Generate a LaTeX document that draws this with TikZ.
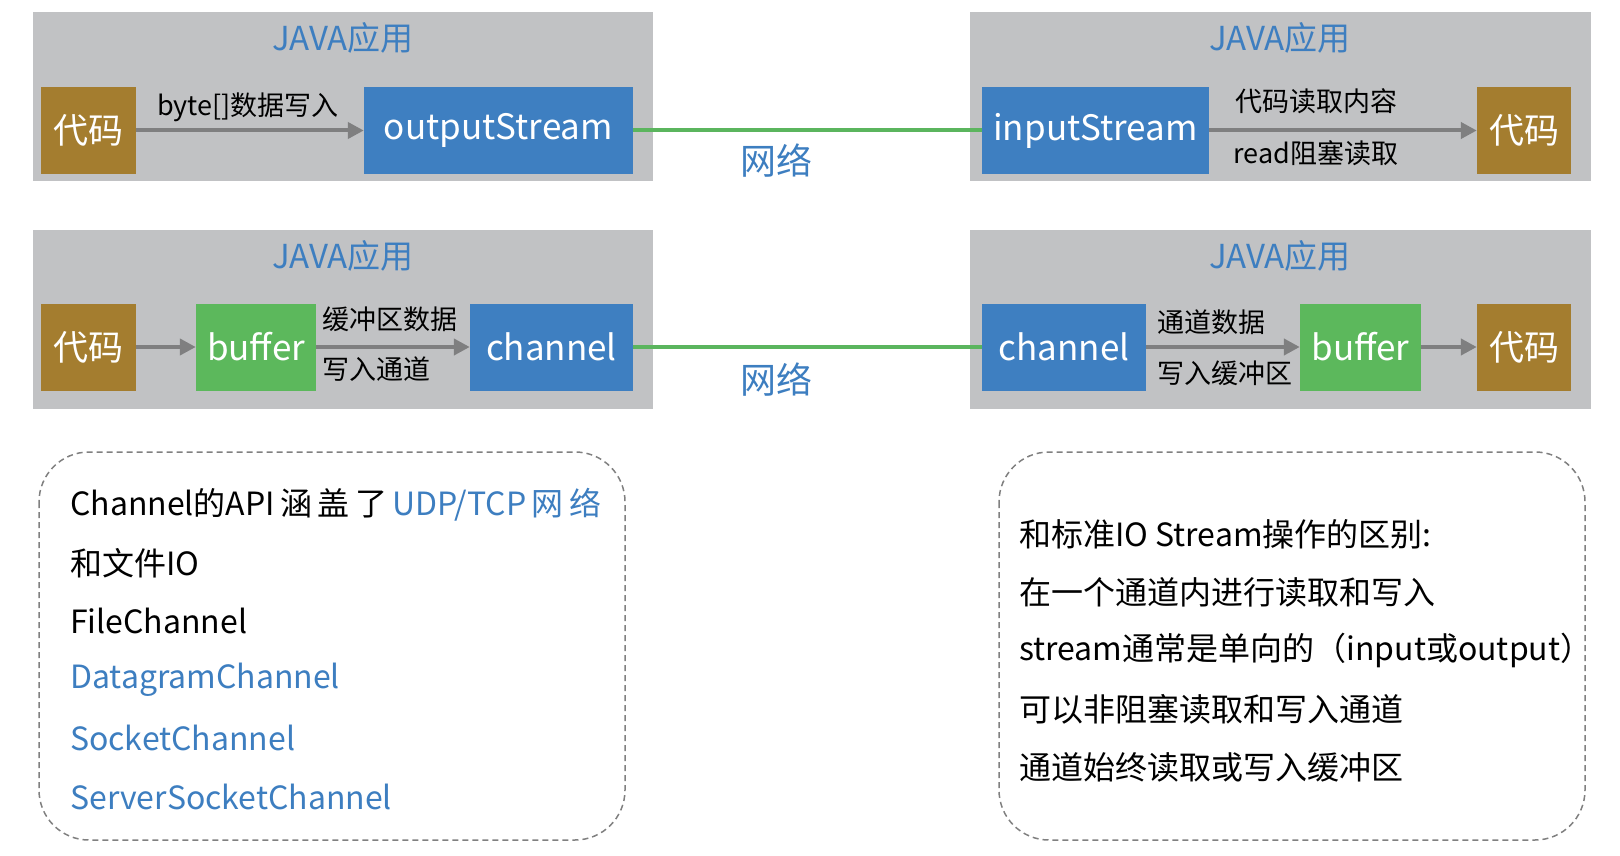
\documentclass[tikz,border=0pt]{standalone}
\usepackage{fontspec}
\setmainfont{Noto Sans CJK SC}
\usetikzlibrary{arrows.meta}
\definecolor{gbox}{HTML}{C1C2C4}
\definecolor{gold}{HTML}{A47D2F}
\definecolor{bblue}{HTML}{3E7FC1}
\definecolor{bgreen}{HTML}{5CB85C}
\definecolor{lgreen}{HTML}{5BB55E}
\definecolor{agray}{HTML}{7F7F80}
\definecolor{tblue}{HTML}{3D7EC0}
\begin{document}
\begin{tikzpicture}[x=1pt,y=-1pt,
  app/.style={fill=gbox,draw=none},
  blk/.style={draw=none,text=white,font=\fontsize{35}{37}\selectfont,inner sep=0},
  code/.style={blk,fill=gold},
  blue/.style={blk,fill=bblue},
  green/.style={blk,fill=bgreen},
  arr/.style={draw=agray,line width=4pt,-{Triangle[length=16pt,width=16pt]}},
  net/.style={draw=lgreen,line width=4pt},
  lbl/.style={font=\fontsize{27}{29}\selectfont,inner sep=0},
  title/.style={text=tblue,font=\fontsize{33}{35}\selectfont,inner sep=0},
  nettxt/.style={text=tblue,font=\fontsize{36}{38}\selectfont,inner sep=0},
  dbox/.style={draw=gray,dash pattern=on 6pt off 4pt,line width=1.5pt,rounded corners=50pt},
  txt/.style={font=\fontsize{32}{34}\selectfont,inner sep=0,anchor=west}]
\useasboundingbox (0,0) rectangle (1620,856);
% row 1
\fill[app] (33,12) rectangle (653,181);
\fill[app] (970,12) rectangle (1591,181);
\node[title] (t1) at (343,38) {JAVA应用};
\node[title] (t2) at (1280,38) {JAVA应用};
\node[code,minimum width=95pt,minimum height=87pt] (c1) at (88.5,130.5) {代码};
\node[blue,minimum width=269pt,minimum height=87pt] (os) at (498.5,130.5) {outputStream};
\node[blue,minimum width=227pt,minimum height=87pt] (is) at (1095.5,130.5) {inputStream};
\node[code,minimum width=94pt,minimum height=87pt] (c2) at (1524,130.5) {代码};
\draw[arr] (c1) -- (os);
\draw[arr] (is) -- (c2);
\draw[net] (os) -- (is);
\node[lbl] (l1) at (248,107) {byte[]数据写入};
\node[lbl] (l2) at (1316,101) {代码读取内容};
\node[lbl] (l3) at (1316,153) {read阻塞读取};
\node[nettxt] (n1) at (776,161) {网络};
% row 2
\fill[app] (33,230) rectangle (653,409);
\fill[app] (970,230) rectangle (1591,409);
\node[title] (t3) at (343,256) {JAVA应用};
\node[title] (t4) at (1280,256) {JAVA应用};
\node[code,minimum width=95pt,minimum height=87pt] (c3) at (88.5,347) {代码};
\node[green,minimum width=120pt,minimum height=87pt] (b1) at (256,347) {buffer};
\node[blue,minimum width=163pt,minimum height=87pt] (ch1) at (551.5,347) {channel};
\node[blue,minimum width=164pt,minimum height=87pt] (ch2) at (1064,347) {channel};
\node[green,minimum width=121pt,minimum height=87pt] (b2) at (1360.5,347) {buffer};
\node[code,minimum width=94pt,minimum height=87pt] (c4) at (1524,347) {代码};
\draw[arr] (c3) -- (b1);
\draw[arr] (b1) -- (ch1);
\draw[net] (ch1) -- (ch2);
\draw[arr] (ch2) -- (b2);
\draw[arr] (b2) -- (c4);
\node[lbl] (l4) at (390,319) {缓冲区数据};
\node[lbl] (l5) at (376,369) {写入通道};
\node[lbl] (l6) at (1211,322) {通道数据};
\node[lbl] (l7) at (1225,373) {写入缓冲区};
\node[nettxt] (n2) at (776,380) {网络};
% notes
\draw[dbox] (39,452) rectangle (625,840);
\draw[dbox] (999,452) rectangle (1585,840);
\node[txt] (a1) at (70,505) {Channel的API\,涵\,盖\,了\,\textcolor{tblue}{UDP/TCP\,网\,络}};
\node[txt] (a2) at (70,563) {和文件IO};
\node[txt] (a3) at (70,621) {FileChannel};
\node[txt,text=tblue] (a4) at (70,680) {DatagramChannel};
\node[txt,text=tblue] (a5) at (70,738) {SocketChannel};
\node[txt,text=tblue] (a6) at (70,797) {ServerSocketChannel};
\node[txt] (r1) at (1019,534) {和标准IO Stream操作的区别:};
\node[txt] (r2) at (1019,592) {在一个通道内进行读取和写入};
\node[txt] (r3) at (1019,650) {stream通常是单向的（input或output）};
\node[txt] (r4) at (1019,709) {可以非阻塞读取和写入通道};
\node[txt] (r5) at (1019,767) {通道始终读取或写入缓冲区};
\end{tikzpicture}
\end{document}
